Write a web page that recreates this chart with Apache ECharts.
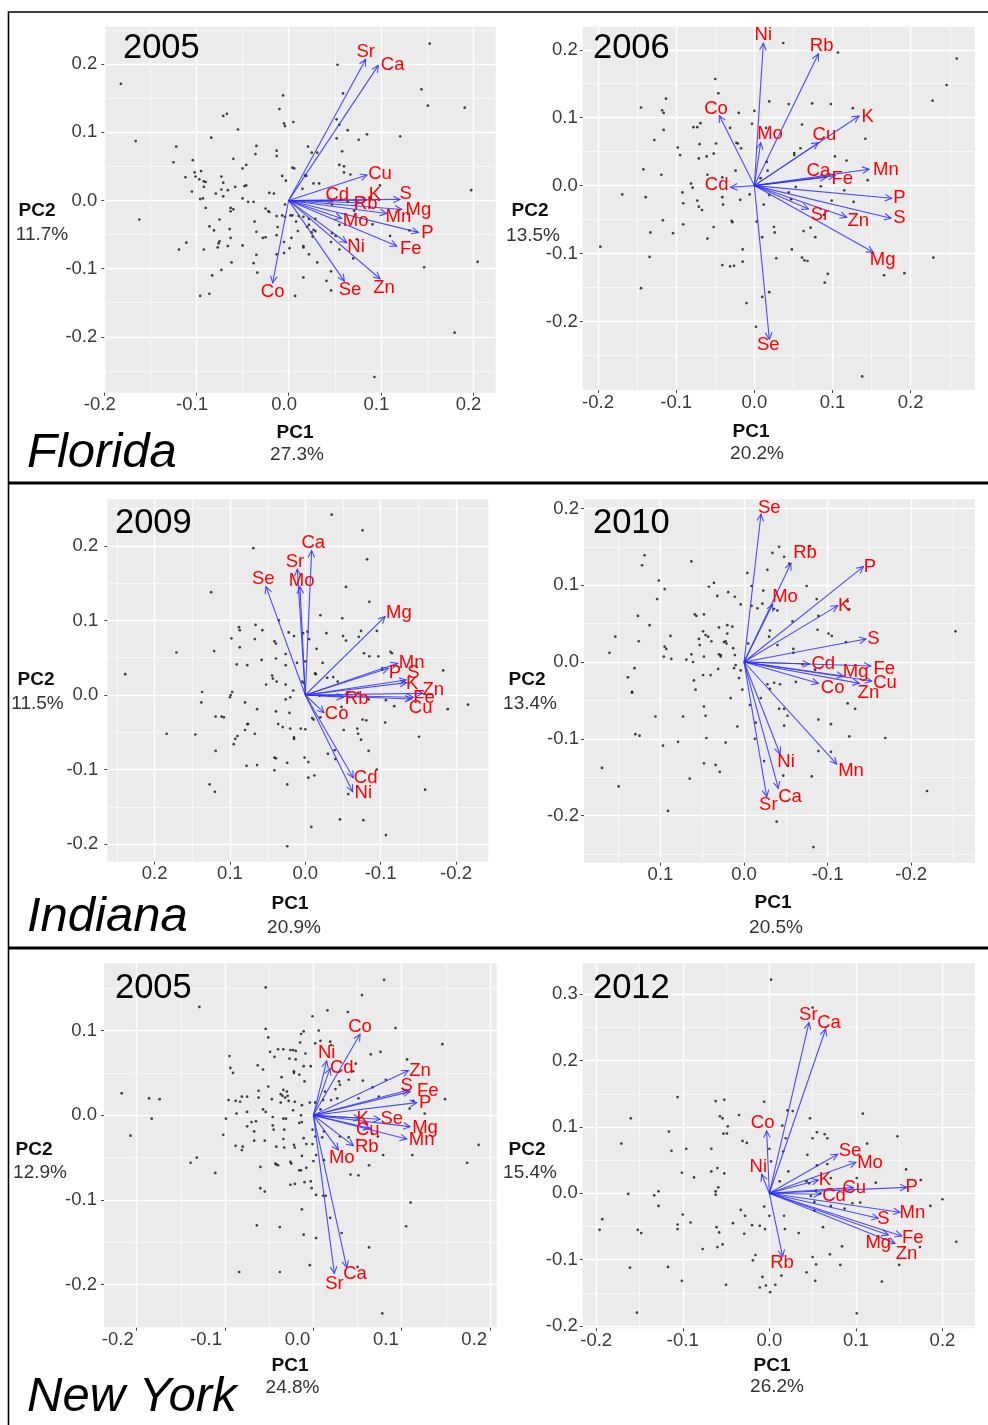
<!DOCTYPE html>
<html>
<head>
<meta charset="utf-8">
<title>PCA biplots of leaf elements – Florida, Indiana, New York</title>
<script src="https://cdn.jsdelivr.net/npm/echarts@6/dist/echarts.min.js"></script>
<style>
  html, body { margin: 0; padding: 0; background: #fff; }
  #chart { width: 988px; height: 1425px; }
</style>
</head>
<body>
<div id="chart"></div>
<script>
// ---------------------------------------------------------------------------
// Data: sample scores (PC1, PC2), element loadings and where each element
// name sits, one block per site/year.
// ---------------------------------------------------------------------------

// Florida 2005
const fl2005Scores = [[0.153,0.230],[0.053,0.199],[-0.182,0.171],[0.144,0.163],[0.059,0.157],[-0.006,0.154],[0.151,0.139],[0.191,0.136],[-0.010,0.134],[-0.067,0.127],[-0.071,0.124],[0.052,0.119],[0.005,0.115],[-0.005,0.113],[-0.004,0.109],[0.055,0.111],[-0.055,0.104],[0.064,0.103],[-0.166,0.087],[0.085,0.097],[0.121,0.094],[-0.084,0.092],[0.052,0.091],[0.076,0.089],[-0.122,0.079],[-0.035,0.080],[0.021,0.079],[0.025,0.070],[0.031,0.070],[-0.036,0.068],[-0.013,0.073],[-0.013,0.065],[0.058,0.072],[-0.060,0.061],[-0.104,0.059],[-0.125,0.056],[-0.046,0.052],[-0.050,0.047],[0.004,0.048],[0.006,0.047],[0.055,0.052],[0.060,0.050],[0.060,0.041],[0.067,0.038],[-0.095,0.043],[-0.102,0.041],[-0.112,0.034],[-0.101,0.035],[-0.073,0.035],[-0.007,0.036],[0.018,0.037],[0.019,0.036],[-0.097,0.031],[-0.092,0.028],[-0.090,0.027],[-0.071,0.026],[-0.003,0.029],[0.027,0.025],[0.033,0.025],[0.099,0.022],[-0.046,0.022],[-0.048,0.021],[-0.058,0.020],[-0.092,0.020],[-0.073,0.016],[-0.066,0.015],[-0.105,0.013],[-0.079,0.010],[-0.021,0.011],[-0.016,0.010],[0.015,0.017],[-0.071,0.006],[-0.050,0.003],[-0.093,0.003],[-0.096,0.002],[-0.044,-0.002],[-0.038,-0.002],[0.088,0.003],[0.098,0.001],[0.056,0.001],[0.047,-0.006],[0.064,-0.002],[-0.004,-0.006],[-0.090,-0.011],[-0.025,-0.012],[-0.022,-0.016],[-0.021,-0.017],[-0.063,-0.011],[-0.060,-0.013],[-0.063,-0.016],[-0.007,-0.022],[-0.004,-0.024],[-0.013,-0.023],[0.002,-0.022],[0.004,-0.022],[0.011,-0.023],[0.016,-0.024],[-0.075,-0.028],[-0.037,-0.031],[0.008,-0.031],[0.022,-0.027],[0.029,-0.027],[0.055,-0.036],[0.091,-0.035],[-0.086,-0.038],[-0.081,-0.044],[-0.064,-0.042],[-0.035,-0.046],[-0.012,-0.039],[0.020,-0.039],[0.022,-0.036],[0.010,-0.045],[0.027,-0.043],[0.025,-0.047],[0.029,-0.045],[0.131,-0.044],[0.110,-0.052],[0.026,-0.053],[0.003,-0.055],[-0.028,-0.055],[-0.025,-0.054],[-0.063,-0.055],[-0.013,-0.051],[-0.111,-0.062],[-0.075,-0.060],[-0.076,-0.063],[-0.077,-0.069],[-0.050,-0.066],[-0.119,-0.072],[-0.092,-0.072],[-0.066,-0.067],[0.016,-0.067],[0.016,-0.069],[0.001,-0.070],[-0.005,-0.061],[0.046,-0.061],[0.051,-0.052],[0.074,-0.057],[-0.005,-0.077],[-0.013,-0.079],[-0.035,-0.080],[0.022,-0.079],[0.070,-0.085],[0.055,-0.072],[-0.062,-0.091],[-0.038,-0.092],[0.031,-0.091],[0.147,-0.098],[0.205,-0.090],[-0.073,-0.102],[-0.083,-0.110],[-0.034,-0.106],[0.046,-0.104],[0.016,-0.113],[0.041,-0.118],[0.046,-0.132],[-0.096,-0.140],[-0.086,-0.137],[0.007,-0.140],[0.180,-0.194],[0.093,-0.259],[-0.162,-0.028],[0.198,0.015],[0.071,-0.015],[0.088,-0.010],[0.047,-0.048]];
const fl2005Elements = ['Sr','Ca','Cu','Cd','K','S','Rb','Mg','Mn','Mo','P','Fe','Ni','Se','Zn','Co'];
const fl2005LoadPC1 = [0.0835,0.0973,0.0850,0.0485,0.0846,0.1208,0.0774,0.1226,0.1063,0.0575,0.1407,0.1172,0.0629,0.0604,0.0991,-0.0174];
const fl2005LoadPC2 = [0.2068,0.1980,0.0372,-0.0005,0.0005,0.0015,-0.0034,-0.0132,-0.0191,-0.0264,-0.0469,-0.0670,-0.0621,-0.1183,-0.1149,-0.1208];
const fl2005NamePC1 = [0.0835,0.1128,0.0991,0.0528,0.0937,0.1269,0.0835,0.1407,0.1190,0.0727,0.1505,0.1324,0.0731,0.0665,0.1034,-0.0174];
const fl2005NamePC2 = [0.2181,0.1985,0.0396,0.0088,0.0078,0.0093,-0.0044,-0.0142,-0.0249,-0.0298,-0.0474,-0.0704,-0.0689,-0.1306,-0.1276,-0.1345];
const fl2005XTicks = [-0.2,-0.1,0,0.1,0.2];
const fl2005YTicks = [-0.2,-0.1,0,0.1,0.2];

// Florida 2006
const fl2006Scores = [[0.259,0.187],[0.246,0.148],[0.228,0.125],[0.037,0.210],[0.107,0.196],[-0.050,0.157],[-0.046,0.136],[-0.113,0.128],[-0.145,0.115],[-0.118,0.111],[-0.116,0.107],[-0.116,0.082],[-0.128,0.067],[0.019,0.124],[0.044,0.120],[0.074,0.121],[0.098,0.120],[0.126,0.114],[0.000,0.110],[-0.020,0.107],[-0.003,0.091],[0.061,0.090],[-0.031,0.085],[-0.069,0.092],[-0.078,0.086],[-0.073,0.086],[0.015,0.085],[0.142,0.069],[-0.023,0.063],[-0.021,0.062],[-0.017,0.055],[-0.070,0.061],[-0.049,0.062],[-0.098,0.056],[-0.095,0.045],[-0.071,0.040],[-0.061,0.043],[-0.052,0.047],[0.051,0.048],[0.051,0.045],[0.059,0.055],[0.103,0.043],[0.118,0.037],[0.016,0.035],[0.017,0.022],[0.008,0.011],[-0.024,0.022],[-0.142,0.024],[-0.119,0.016],[-0.060,0.016],[-0.041,0.012],[-0.081,0.003],[-0.079,-0.003],[0.145,0.008],[0.085,-0.001],[0.053,-0.002],[-0.169,-0.013],[-0.092,-0.010],[-0.139,-0.017],[-0.041,-0.017],[-0.006,-0.013],[-0.018,-0.021],[0.044,-0.010],[0.047,-0.020],[0.115,-0.007],[0.099,-0.022],[0.127,-0.024],[-0.073,-0.022],[-0.091,-0.026],[-0.071,-0.031],[-0.067,-0.036],[-0.040,-0.028],[0.012,-0.028],[-0.117,-0.051],[-0.091,-0.057],[-0.029,-0.052],[-0.028,-0.054],[0.003,-0.053],[-0.052,-0.061],[-0.133,-0.069],[-0.104,-0.070],[-0.060,-0.078],[0.025,-0.061],[0.026,-0.069],[0.010,-0.076],[0.063,-0.067],[0.072,-0.062],[0.078,-0.076],[0.089,-0.043],[-0.197,-0.090],[-0.015,-0.094],[0.048,-0.094],[-0.015,-0.112],[-0.041,-0.117],[-0.031,-0.119],[-0.026,-0.118],[0.028,-0.107],[0.061,-0.106],[0.064,-0.110],[0.068,-0.111],[-0.134,-0.105],[0.094,-0.130],[0.090,-0.143],[0.166,-0.132],[0.192,-0.129],[0.229,-0.106],[-0.145,-0.151],[0.019,-0.157],[0.010,-0.164],[-0.010,-0.173],[0.002,-0.208],[0.138,-0.281],[0.019,-0.014]];
const fl2006Elements = ['Ni','Rb','Co','Mo','Cu','K','Ca','Fe','Mn','P','S','Sr','Zn','Mg','Cd','Se'];
const fl2006LoadPC1 = [0.0115,0.0819,-0.0448,0.0081,0.0819,0.1339,0.0925,0.1032,0.1467,0.1757,0.1748,0.0691,0.1181,0.1522,-0.0303,0.0192];
const fl2006LoadPC2 = [0.2096,0.1939,0.1031,0.0633,0.0633,0.1026,0.0123,0.0147,0.0241,-0.0187,-0.0481,-0.0344,-0.0466,-0.0982,-0.0025,-0.2263];
const fl2006NamePC1 = [0.0115,0.0861,-0.0490,0.0200,0.0896,0.1450,0.0819,0.1126,0.1684,0.1855,0.1855,0.0840,0.1330,0.1642,-0.0482,0.0179];
const fl2006NamePC2 = [0.2219,0.2062,0.1124,0.0761,0.0746,0.1016,0.0216,0.0093,0.0231,-0.0187,-0.0481,-0.0432,-0.0520,-0.1095,0.0010,-0.2347];
const fl2006XTicks = [-0.2,-0.1,0,0.1,0.2];
const fl2006YTicks = [-0.2,-0.1,0,0.1,0.2];

// Indiana 2009
const in2009Scores = [[-0.035,0.242],[-0.076,0.221],[0.069,0.197],[-0.082,0.182],[0.125,0.138],[-0.054,0.145],[-0.085,0.125],[-0.020,0.107],[-0.049,0.103],[0.035,0.100],[0.066,0.094],[0.088,0.091],[0.087,0.087],[0.057,0.087],[0.022,0.084],[0.015,0.079],[0.003,0.083],[-0.003,0.085],[-0.028,0.083],[-0.074,0.086],[-0.095,0.086],[0.098,0.076],[0.067,0.075],[0.041,0.072],[0.039,0.069],[-0.005,0.075],[-0.050,0.079],[-0.054,0.073],[-0.071,0.078],[0.087,0.064],[0.121,0.059],[0.171,0.057],[-0.015,0.062],[-0.078,0.056],[-0.085,0.052],[-0.113,0.058],[-0.115,0.056],[-0.097,0.052],[0.058,0.047],[0.039,0.049],[0.026,0.055],[-0.023,0.043],[0.091,0.041],[0.077,0.040],[0.026,0.040],[0.011,0.043],[0.000,0.045],[-0.014,0.028],[-0.029,0.023],[-0.043,0.018],[-0.102,0.034],[-0.183,0.033],[0.239,0.028],[0.044,0.026],[0.043,0.022],[0.038,0.018],[0.052,0.014],[0.026,0.014],[0.004,0.018],[0.002,0.016],[0.016,0.006],[0.137,0.004],[0.097,0.004],[0.099,0.000],[0.100,-0.003],[0.138,-0.010],[0.080,-0.010],[0.020,-0.003],[0.026,-0.006],[-0.058,0.004],[-0.070,0.003],[-0.084,-0.006],[-0.107,-0.007],[-0.118,-0.015],[-0.189,-0.019],[-0.216,-0.013],[-0.048,-0.016],[-0.019,-0.001],[0.064,-0.019],[0.119,-0.029],[0.111,-0.029],[0.108,-0.030],[0.039,-0.022],[0.021,-0.024],[-0.009,-0.031],[-0.011,-0.033],[-0.076,-0.033],[-0.081,-0.034],[-0.106,-0.037],[0.077,-0.039],[0.076,-0.039],[0.036,-0.039],[0.030,-0.043],[0.020,-0.045],[0.006,-0.045],[0.000,-0.046],[-0.051,-0.047],[-0.069,-0.045],[-0.070,-0.052],[-0.074,-0.060],[0.080,-0.047],[0.090,-0.055],[0.093,-0.059],[0.095,-0.066],[0.067,-0.052],[0.184,-0.052],[0.146,-0.053],[0.015,-0.057],[0.015,-0.059],[-0.151,-0.056],[0.119,-0.075],[-0.039,-0.074],[-0.084,-0.075],[-0.030,-0.079],[0.041,-0.084],[0.039,-0.085],[0.001,-0.084],[-0.004,-0.090],[0.078,-0.095],[0.064,-0.094],[0.024,-0.091],[0.041,-0.101],[-0.095,-0.100],[-0.040,-0.086],[-0.012,-0.108],[-0.004,-0.111],[0.127,-0.120],[0.120,-0.130],[0.024,-0.120],[-0.057,-0.133],[-0.159,-0.127],[-0.046,-0.167],[-0.077,-0.168],[-0.008,-0.177],[-0.107,-0.188],[0.024,-0.203],[-0.013,0.029],[-0.037,0.024],[-0.020,-0.030],[-0.055,0.002]];
const in2009Elements = ['Ca','Sr','Mo','Se','Mg','Mn','P','S','K','Zn','Fe','Cu','Rb','Co','Cd','Ni'];
const in2009LoadPC1 = [-0.0084,0.0106,0.0071,0.0522,-0.1058,-0.1226,-0.1102,-0.1336,-0.1345,-0.1558,-0.1434,-0.1412,-0.0504,-0.0248,-0.0637,-0.0628];
const in2009LoadPC2 = [0.1937,0.1687,0.1454,0.1454,0.1051,0.0425,0.0358,0.0201,0.0166,0.0022,-0.0031,-0.0054,-0.0031,-0.0237,-0.1110,-0.1298];
const in2009NamePC1 = [-0.0106,0.0137,0.0049,0.0558,-0.1243,-0.1412,-0.1190,-0.1434,-0.1420,-0.1699,-0.1575,-0.1531,-0.0681,-0.0416,-0.0801,-0.0770];
const in2009NamePC2 = [0.2036,0.1790,0.1535,0.1557,0.1096,0.0425,0.0300,0.0291,0.0148,0.0067,-0.0045,-0.0179,-0.0054,-0.0260,-0.1110,-0.1311];
const in2009XTicks = [-0.2,-0.1,0,0.1,0.2];
const in2009YTicks = [-0.2,-0.1,0,0.1,0.2];

// Indiana 2010
const in2010Scores = [[-0.253,0.040],[-0.042,0.150],[-0.079,0.151],[-0.034,0.142],[-0.048,0.137],[-0.054,0.128],[0.119,0.139],[0.122,0.126],[0.063,0.131],[-0.004,0.116],[-0.028,0.120],[0.102,0.106],[0.036,0.103],[0.042,0.098],[-0.009,0.099],[-0.075,0.099],[0.095,0.095],[0.104,0.082],[0.032,0.086],[0.019,0.091],[0.011,0.085],[-0.023,0.093],[0.004,0.075],[-0.009,0.073],[-0.016,0.070],[-0.022,0.076],[-0.036,0.069],[-0.040,0.067],[-0.087,0.082],[-0.124,0.079],[-0.126,0.069],[-0.089,0.060],[0.127,0.060],[0.059,0.062],[0.057,0.060],[0.048,0.062],[-0.058,0.053],[0.113,0.048],[0.030,0.045],[0.020,0.048],[0.014,0.046],[0.049,0.040],[0.046,0.035],[0.043,0.033],[0.020,0.037],[-0.031,0.041],[-0.030,0.033],[-0.088,0.042],[-0.101,0.037],[-0.105,0.034],[0.154,0.033],[0.088,0.034],[0.054,0.030],[0.039,0.027],[0.053,0.022],[0.024,0.026],[0.022,0.027],[0.021,0.024],[-0.005,0.024],[-0.040,0.022],[-0.059,0.017],[-0.059,0.012],[-0.122,0.026],[0.126,0.027],[0.161,0.012],[0.095,0.020],[0.093,0.017],[0.096,0.007],[0.087,0.004],[0.063,0.010],[0.069,0.003],[0.061,0.000],[0.048,0.007],[0.030,0.010],[0.028,0.009],[0.028,0.007],[0.011,0.009],[0.013,0.018],[0.010,-0.004],[0.012,-0.008],[0.004,-0.011],[0.006,-0.021],[0.002,-0.036],[-0.070,-0.003],[-0.085,-0.010],[-0.062,-0.026],[-0.036,-0.027],[-0.043,-0.029],[-0.028,-0.029],[-0.031,-0.035],[0.131,-0.008],[0.139,-0.020],[0.134,-0.039],[0.134,-0.040],[0.060,-0.024],[0.058,-0.036],[0.040,-0.017],[0.031,-0.009],[0.049,-0.017],[0.016,-0.047],[-0.007,-0.056],[-0.020,-0.047],[-0.042,-0.061],[-0.048,-0.061],[-0.052,-0.070],[-0.124,-0.054],[-0.133,-0.061],[0.048,-0.058],[0.046,-0.070],[0.106,-0.071],[0.073,-0.071],[-0.014,-0.079],[-0.048,-0.083],[-0.089,-0.075],[-0.104,-0.081],[0.008,-0.084],[0.130,-0.094],[0.125,-0.096],[0.045,-0.099],[-0.013,-0.100],[-0.126,-0.097],[-0.169,-0.099],[0.079,-0.104],[0.022,-0.105],[0.097,-0.109],[-0.089,-0.116],[-0.104,-0.117],[-0.024,-0.129],[0.048,-0.132],[0.034,-0.134],[0.029,-0.143],[0.170,-0.138],[-0.047,-0.148],[-0.081,-0.149],[0.065,-0.152],[0.150,-0.162],[-0.219,-0.168],[0.091,-0.194],[-0.039,-0.208],[-0.083,-0.241]];
const in2010Elements = ['Se','Rb','P','Mo','K','S','Cd','Fe','Mg','Cu','Zn','Co','Mn','Ni','Ca','Sr'];
const in2010LoadPC1 = [-0.0203,-0.0562,-0.1428,-0.0343,-0.1121,-0.1460,-0.0782,-0.1516,-0.1189,-0.1528,-0.1380,-0.0890,-0.1109,-0.0431,-0.0411,-0.0271];
const in2010LoadPC2 = [0.1924,0.1285,0.1242,0.0751,0.0734,0.0300,-0.0026,-0.0052,-0.0182,-0.0248,-0.0278,-0.0278,-0.1329,-0.1198,-0.1646,-0.1754];
const in2010NamePC1 = [-0.0303,-0.0730,-0.1508,-0.0491,-0.1197,-0.1548,-0.0949,-0.1679,-0.1336,-0.1687,-0.1488,-0.1061,-0.1280,-0.0503,-0.0550,-0.0291];
const in2010NamePC2 = [0.2010,0.1416,0.1242,0.0842,0.0729,0.0295,-0.0026,-0.0096,-0.0135,-0.0269,-0.0399,-0.0334,-0.1420,-0.1298,-0.1754,-0.1863];
const in2010XTicks = [-0.2,-0.1,0,0.1];
const in2010YTicks = [-0.2,-0.1,0,0.1,0.2];

// New York 2005
const ny2005Scores = [[0.080,0.160],[-0.054,0.151],[0.055,0.142],[-0.129,0.128],[0.016,0.124],[0.039,0.122],[-0.001,0.117],[0.093,0.103],[-0.054,0.102],[-0.011,0.099],[-0.014,0.096],[0.006,0.100],[-0.051,0.092],[-0.015,0.086],[0.002,0.085],[0.008,0.088],[0.019,0.087],[0.020,0.083],[0.146,0.084],[-0.095,0.070],[-0.040,0.078],[-0.034,0.078],[-0.026,0.077],[-0.049,0.075],[-0.023,0.077],[-0.020,0.076],[-0.044,0.069],[-0.027,0.067],[-0.020,0.066],[-0.009,0.073],[0.065,0.072],[0.076,0.075],[0.106,0.066],[-0.094,0.056],[-0.091,0.050],[-0.063,0.059],[-0.057,0.054],[-0.022,0.052],[-0.022,0.050],[-0.011,0.058],[-0.003,0.058],[0.048,0.061],[0.082,0.042],[-0.036,0.045],[-0.016,0.048],[-0.010,0.040],[0.029,0.040],[0.030,0.036],[0.040,0.042],[0.056,0.041],[0.067,0.033],[-0.051,0.034],[-0.062,0.029],[-0.034,0.030],[-0.030,0.028],[-0.037,0.025],[-0.035,0.023],[-0.032,0.021],[-0.029,0.023],[-0.075,0.022],[-0.081,0.022],[-0.088,0.017],[-0.083,0.016],[-0.096,0.018],[-0.217,0.026],[-0.186,0.020],[-0.174,0.019],[-0.183,-0.004],[-0.207,-0.024],[-0.062,0.021],[-0.047,0.019],[-0.037,0.015],[-0.021,0.016],[-0.028,0.017],[-0.013,0.012],[-0.004,0.015],[0.002,0.015],[0.011,0.018],[0.020,0.018],[0.027,0.020],[0.051,0.020],[0.074,0.022],[0.113,0.017],[0.149,0.019],[-0.087,0.002],[-0.075,0.004],[-0.057,0.007],[-0.054,0.004],[-0.065,-0.007],[-0.046,-0.002],[-0.034,-0.004],[-0.031,-0.004],[-0.023,0.006],[-0.014,0.000],[-0.013,-0.008],[-0.099,-0.004],[-0.070,-0.008],[-0.016,-0.009],[-0.067,-0.019],[-0.045,-0.017],[-0.033,-0.017],[-0.001,-0.017],[-0.055,-0.030],[-0.067,-0.030],[-0.080,-0.037],[-0.081,-0.041],[-0.102,-0.023],[-0.042,-0.037],[-0.033,-0.038],[-0.022,-0.035],[-0.021,-0.038],[-0.011,-0.027],[-0.008,-0.034],[-0.001,-0.034],[0.002,-0.025],[0.012,-0.019],[0.010,-0.026],[0.030,-0.025],[0.040,-0.026],[0.050,-0.029],[0.067,-0.022],[0.073,-0.025],[-0.139,-0.056],[-0.132,-0.050],[-0.111,-0.068],[-0.060,-0.061],[-0.043,-0.057],[-0.042,-0.058],[-0.040,-0.059],[-0.026,-0.055],[-0.025,-0.057],[-0.013,-0.048],[0.003,-0.047],[0.000,-0.054],[0.012,-0.053],[-0.014,-0.065],[-0.016,-0.065],[-0.008,-0.062],[0.042,-0.070],[0.051,-0.071],[0.063,-0.059],[0.079,-0.047],[0.112,-0.047],[0.174,-0.056],[0.187,-0.035],[0.126,0.002],[0.109,0.008],[-0.060,-0.086],[-0.055,-0.090],[-0.026,-0.082],[-0.021,-0.081],[-0.010,-0.079],[-0.003,-0.078],[-0.002,-0.086],[0.003,-0.094],[0.011,-0.095],[0.014,-0.095],[-0.013,-0.111],[0.019,-0.121],[0.110,-0.103],[-0.064,-0.130],[-0.038,-0.132],[0.105,-0.131],[-0.011,-0.141],[0.003,-0.145],[0.032,-0.139],[0.063,-0.156],[-0.084,-0.185],[-0.038,-0.185],[-0.004,-0.177],[0.050,-0.179],[0.078,-0.234],[0.045,0.052],[0.013,0.028],[0.025,0.031],[0.008,0.007],[-0.075,-0.013],[-0.046,-0.012],[-0.088,-0.036],[-0.034,-0.028]];
const ny2005Elements = ['Co','Ni','Cd','Zn','S','Fe','P','K','Se','Mg','Cu','Mn','Rb','Mo','Sr','Ca'];
const ny2005LoadPC1 = [0.0528,0.0151,0.0189,0.1075,0.1075,0.1094,0.1170,0.0528,0.0755,0.1094,0.0642,0.1057,0.0453,0.0283,0.0238,0.0377];
const ny2005LoadPC2 = [0.0957,0.0642,0.0555,0.0528,0.0299,0.0280,0.0150,-0.0035,-0.0047,-0.0134,-0.0154,-0.0280,-0.0358,-0.0409,-0.1866,-0.1799];
const ny2005NamePC1 = [0.0528,0.0151,0.0321,0.1208,0.1057,0.1294,0.1264,0.0558,0.0887,0.1264,0.0615,0.1226,0.0604,0.0321,0.0238,0.0472];
const ny2005NamePC2 = [0.1047,0.0732,0.0555,0.0528,0.0350,0.0287,0.0142,-0.0043,-0.0047,-0.0146,-0.0173,-0.0291,-0.0370,-0.0508,-0.1996,-0.1878];
const ny2005XTicks = [-0.2,-0.1,0,0.1,0.2];
const ny2005YTicks = [-0.2,-0.1,0,0.1];

// New York 2012
const ny2012Scores = [[0.002,0.322],[0.050,0.280],[-0.106,0.145],[-0.062,0.139],[-0.052,0.141],[-0.006,0.138],[0.021,0.125],[0.027,0.124],[0.108,0.120],[-0.160,0.113],[-0.035,0.118],[-0.057,0.116],[-0.054,0.113],[0.047,0.113],[-0.048,0.101],[0.015,0.102],[-0.116,0.093],[-0.053,0.090],[-0.049,0.090],[0.055,0.092],[0.064,0.089],[0.067,0.083],[0.050,0.083],[0.148,0.086],[0.019,0.083],[-0.031,0.079],[-0.026,0.076],[-0.171,0.075],[0.113,0.075],[-0.096,0.067],[-0.113,0.064],[-0.067,0.067],[0.000,0.067],[0.016,0.063],[0.044,0.058],[0.002,0.048],[0.067,0.044],[0.055,0.042],[0.158,0.036],[-0.101,0.031],[-0.067,0.033],[-0.060,0.038],[-0.052,0.030],[-0.087,0.024],[0.022,0.033],[0.071,0.023],[0.101,0.023],[0.175,0.020],[0.123,0.016],[0.012,0.018],[0.043,0.018],[-0.059,0.009],[-0.062,0.003],[-0.062,-0.002],[-0.128,0.003],[-0.133,-0.003],[-0.163,-0.001],[0.048,-0.004],[0.052,-0.013],[0.059,0.000],[0.096,-0.015],[0.105,-0.014],[0.071,-0.019],[0.200,-0.009],[0.186,-0.019],[-0.128,-0.019],[-0.006,-0.020],[-0.033,-0.025],[0.052,-0.026],[0.087,-0.023],[-0.100,-0.032],[-0.028,-0.034],[0.000,-0.034],[0.017,-0.034],[-0.193,-0.039],[-0.091,-0.044],[-0.042,-0.045],[-0.106,-0.047],[-0.020,-0.048],[-0.011,-0.049],[0.062,-0.051],[-0.061,-0.051],[-0.106,-0.054],[-0.005,-0.054],[0.018,-0.054],[-0.196,-0.055],[-0.152,-0.055],[-0.148,-0.060],[-0.058,-0.059],[-0.029,-0.061],[0.034,-0.060],[-0.054,-0.077],[-0.060,-0.081],[-0.077,-0.084],[0.084,-0.080],[0.174,-0.081],[0.216,-0.073],[0.070,-0.092],[-0.016,-0.093],[-0.019,-0.101],[0.050,-0.096],[0.054,-0.107],[0.082,-0.108],[0.150,-0.108],[-0.161,-0.112],[-0.117,-0.111],[0.043,-0.119],[-0.008,-0.126],[0.014,-0.124],[0.053,-0.132],[0.130,-0.133],[-0.101,-0.132],[-0.050,-0.138],[-0.011,-0.142],[-0.004,-0.139],[0.007,-0.138],[0.001,-0.149],[-0.153,-0.180],[0.101,-0.181],[0.046,0.015],[0.054,0.004]];
const ny2012Elements = ['Sr','Ca','Co','Ni','Se','Mo','K','Cu','P','Cd','Mn','S','Fe','Mg','Zn','Rb'];
const ny2012LoadPC1 = [0.0458,0.0651,-0.0031,-0.0089,0.0789,0.1001,0.0566,0.0970,0.1586,0.0585,0.1509,0.1259,0.1529,0.1375,0.1452,0.0154];
const ny2012LoadPC2 = [0.2573,0.2477,0.0940,0.0286,0.0588,0.0467,0.0201,0.0085,0.0090,-0.0015,-0.0286,-0.0377,-0.0643,-0.0628,-0.0754,-0.0955];
const ny2012NamePC1 = [0.0451,0.0689,-0.0077,-0.0127,0.0932,0.1163,0.0643,0.0982,0.1644,0.0747,0.1652,0.1317,0.1656,0.1259,0.1586,0.0146];
const ny2012NamePC2 = [0.2688,0.2563,0.1055,0.0402,0.0638,0.0452,0.0201,0.0075,0.0090,-0.0035,-0.0302,-0.0387,-0.0668,-0.0744,-0.0920,-0.1045];
const ny2012XTicks = [-0.2,-0.1,0,0.1,0.2];
const ny2012YTicks = [-0.2,-0.1,0,0.1,0.2,0.3];

// ---------------------------------------------------------------------------
// Layout and styling
// ---------------------------------------------------------------------------
const FONT = "'Liberation Sans', Arial, Helvetica, sans-serif";

const panels = [
  { year: '2005', pc1: '27.3%', pc2: '11.7%',
    grid: { left: 104.3, top: 26.7, width: 391.4, height: 366 },
    xRange: [-0.2, 0.2246], yRange: [-0.282, 0.2548], reverseX: false, yLabelGap: 7,
    xLabelStyle: { padding: [0, 9, 0, 0] },
    scores: fl2005Scores, elements: fl2005Elements, loadX: fl2005LoadPC1, loadY: fl2005LoadPC2,
    nameX: fl2005NamePC1, nameY: fl2005NamePC2, xTicks: fl2005XTicks, yTicks: fl2005YTicks,
    yearAt: [123, 48], pc2At: [[37, 211], [42, 235]], pc1At: [[295, 433], [297, 455]] },
  { year: '2006', pc1: '20.2%', pc2: '13.5%',
    grid: { left: 582.7, top: 26.7, width: 392.3, height: 363.3 },
    xRange: [-0.2196, 0.2823], yRange: [-0.301, 0.234], reverseX: false, yLabelGap: 5,
    scores: fl2006Scores, elements: fl2006Elements, loadX: fl2006LoadPC1, loadY: fl2006LoadPC2,
    nameX: fl2006NamePC1, nameY: fl2006NamePC2, xTicks: fl2006XTicks, yTicks: fl2006YTicks,
    yearAt: [593, 48], pc2At: [[530, 211], [533, 236]], pc1At: [[751, 432], [757, 454]] },
  { year: '2009', pc1: '20.9%', pc2: '11.5%',
    grid: { left: 107.3, top: 499.3, width: 381, height: 362.4 },
    xRange: [-0.2429, 0.2628], yRange: [-0.2237, 0.2626], reverseX: true, yLabelGap: 9,
    scores: in2009Scores, elements: in2009Elements, loadX: in2009LoadPC1, loadY: in2009LoadPC2,
    nameX: in2009NamePC1, nameY: in2009NamePC2, xTicks: in2009XTicks, yTicks: in2009YTicks,
    yearAt: [115, 523.5], pc2At: [[36, 680], [37.5, 704]], pc1At: [[290, 903.5], [294, 928]] },
  { year: '2010', pc1: '20.5%', pc2: '13.4%',
    grid: { left: 584, top: 499.3, width: 391, height: 363.4 },
    xRange: [-0.2764, 0.1915], yRange: [-0.2614, 0.2119], reverseX: true, yLabelGap: 5,
    scores: in2010Scores, elements: in2010Elements, loadX: in2010LoadPC1, loadY: in2010LoadPC2,
    nameX: in2010NamePC1, nameY: in2010NamePC2, xTicks: in2010XTicks, yTicks: in2010YTicks,
    yearAt: [593, 523.5], pc2At: [[527, 680], [530, 704]], pc1At: [[773, 903], [776, 928]] },
  { year: '2005', pc1: '24.8%', pc2: '12.9%',
    grid: { left: 104, top: 963.3, width: 392.7, height: 364.4 },
    xRange: [-0.237, 0.2075], yRange: [-0.2508, 0.1795], reverseX: false, yLabelGap: 7,
    xLabelStyle: { align: 'right', padding: [0, 3, 0, 0] },
    scores: ny2005Scores, elements: ny2005Elements, loadX: ny2005LoadPC1, loadY: ny2005LoadPC2,
    nameX: ny2005NamePC1, nameY: ny2005NamePC2, xTicks: ny2005XTicks, yTicks: ny2005YTicks,
    yearAt: [115, 988.5], pc2At: [[34, 1150], [40, 1173]], pc1At: [[290, 1366], [292.5, 1388]] },
  { year: '2012', pc1: '26.2%', pc2: '15.4%',
    grid: { left: 582.7, top: 963.3, width: 392.3, height: 365 },
    xRange: [-0.2156, 0.2376], yRange: [-0.2035, 0.3467], reverseX: false, yLabelGap: 5,
    scores: ny2012Scores, elements: ny2012Elements, loadX: ny2012LoadPC1, loadY: ny2012LoadPC2,
    nameX: ny2012NamePC1, nameY: ny2012NamePC2, xTicks: ny2012XTicks, yTicks: ny2012YTicks,
    yearAt: [593, 988.5], pc2At: [[527, 1150], [530, 1173]], pc1At: [[772, 1366], [777, 1387]] }
];

const states = [
  { name: 'Florida', at: [27, 453] },
  { name: 'Indiana', at: [27, 917.5] },
  { name: 'New York', at: [27, 1397.5] }
];

const tickLabel = v => (Math.abs(v) < 1e-9 ? 0 : v).toFixed(1);

function valueAxis(gridIndex, range, ticks, opts) {
  return {
    type: 'value', gridIndex,
    min: range[0], max: range[1],
    inverse: !!opts.inverse,
    splitNumber: 5, minInterval: 0.1, maxInterval: 0.1,
    axisLine: { show: false, onZero: false },
    axisTick: { show: true, length: 3, customValues: ticks, lineStyle: { color: '#444', width: 1 } },
    axisLabel: Object.assign({
      customValues: ticks, formatter: tickLabel,
      color: '#3a3a3a', fontSize: 18.5, fontFamily: FONT, margin: opts.margin
    }, opts.label || {}),
    splitLine: { show: true, lineStyle: { color: '#ffffff', width: 1.4 } },
    minorTick: { show: false, splitNumber: 2 },
    minorSplitLine: { show: true, lineStyle: { color: '#ffffff', width: 0.8, opacity: 0.75 } }
  };
}

// Loading vector: shaft from the origin plus an open chevron head.
function arrowRenderer(params, api) {
  const o = api.coord([0, 0]);
  const t = api.coord([api.value(0), api.value(1)]);
  const dx = t[0] - o[0], dy = t[1] - o[1];
  const len = Math.hypot(dx, dy) || 1;
  const ux = dx / len, uy = dy / len;
  const head = 7.5, ang = 0.46;
  const c = Math.cos(ang), s = Math.sin(ang);
  const h1 = [t[0] - head * (ux * c - uy * s), t[1] - head * (uy * c + ux * s)];
  const h2 = [t[0] - head * (ux * c + uy * s), t[1] - head * (uy * c - ux * s)];
  const style = { stroke: '#2f2fff', lineWidth: 1.1, fill: null, opacity: 0.85 };
  return {
    type: 'group',
    children: [
      { type: 'line', shape: { x1: o[0], y1: o[1], x2: t[0], y2: t[1] }, style },
      { type: 'polyline', shape: { points: [h1, t, h2] }, style }
    ]
  };
}

const grids = [], xAxes = [], yAxes = [], series = [], graphics = [];

panels.forEach((p, i) => {
  grids.push(Object.assign({ show: true, backgroundColor: '#EBEBEB', borderWidth: 0, containLabel: false }, p.grid));

  xAxes.push(valueAxis(i, p.xRange, p.xTicks, {
    inverse: p.reverseX, margin: 3, label: p.xLabelStyle
  }));
  yAxes.push(valueAxis(i, p.yRange, p.yTicks, { margin: p.yLabelGap }));

  series.push({
    type: 'scatter', xAxisIndex: i, yAxisIndex: i, z: 2,
    symbol: 'circle', symbolSize: 2.7,
    itemStyle: { color: '#151515' },
    data: p.scores, silent: true
  });

  const vectors = p.elements.map((e, k) => [p.loadX[k], p.loadY[k]]);
  series.push({
    type: 'custom', xAxisIndex: i, yAxisIndex: i, z: 3,
    coordinateSystem: 'cartesian2d', encode: { x: 0, y: 1 },
    renderItem: arrowRenderer, data: vectors, silent: true
  });

  const namePos = p.elements.map((e, k) => [p.nameX[k], p.nameY[k]]);
  const names = p.elements;
  series.push({
    type: 'custom', xAxisIndex: i, yAxisIndex: i, z: 4,
    coordinateSystem: 'cartesian2d', encode: { x: 0, y: 1 },
    renderItem: (params, api) => {
      const pt = api.coord([api.value(0), api.value(1)]);
      return {
        type: 'text', x: pt[0], y: pt[1],
        style: {
          text: names[params.dataIndex], fill: '#ff0000',
          fontSize: 18.5, fontFamily: FONT, align: 'center', verticalAlign: 'middle'
        }
      };
    },
    data: namePos, silent: true
  });

  // Year inside the panel
  graphics.push({ type: 'text', x: p.yearAt[0], y: p.yearAt[1], z: 10,
    style: { text: p.year, fontSize: 34.5, fontFamily: FONT, fill: '#000', align: 'left', verticalAlign: 'middle' } });
  // Axis titles: component name (bold) over explained variance
  graphics.push({ type: 'text', x: p.pc2At[0][0], y: p.pc2At[0][1],
    style: { text: 'PC2', fontSize: 19, fontWeight: 'bold', fontFamily: FONT, fill: '#111', align: 'center', verticalAlign: 'middle' } });
  graphics.push({ type: 'text', x: p.pc2At[1][0], y: p.pc2At[1][1],
    style: { text: p.pc2, fontSize: 19, fontFamily: FONT, fill: '#333', align: 'center', verticalAlign: 'middle' } });
  graphics.push({ type: 'text', x: p.pc1At[0][0], y: p.pc1At[0][1],
    style: { text: 'PC1', fontSize: 19, fontWeight: 'bold', fontFamily: FONT, fill: '#111', align: 'center', verticalAlign: 'middle' } });
  graphics.push({ type: 'text', x: p.pc1At[1][0], y: p.pc1At[1][1],
    style: { text: p.pc1, fontSize: 19, fontFamily: FONT, fill: '#333', align: 'center', verticalAlign: 'middle' } });
});

// State names
states.forEach(s => {
  graphics.push({ type: 'text', x: s.at[0], y: s.at[1],
    style: { text: s.name, fontSize: 49, fontStyle: 'italic', fontFamily: FONT, fill: '#000', align: 'left', verticalAlign: 'middle' } });
});

// Figure frame and row separators
const rule = (x1, y1, x2, y2, w) => ({ type: 'line', shape: { x1, y1, x2, y2 }, style: { stroke: '#000', lineWidth: w }, z: 20 });
graphics.push(rule(8, 12, 988, 12, 1.5));
graphics.push(rule(8.5, 11.3, 8.5, 1425, 1.6));
graphics.push(rule(8, 483, 988, 483, 3));
graphics.push(rule(8, 948, 988, 948, 3));

const chart = echarts.init(document.getElementById('chart'), null, { renderer: 'canvas' });
chart.setOption({
  backgroundColor: '#ffffff',
  animation: false,
  grid: grids,
  xAxis: xAxes,
  yAxis: yAxes,
  series: series,
  graphic: graphics
});
</script>
</body>
</html>
